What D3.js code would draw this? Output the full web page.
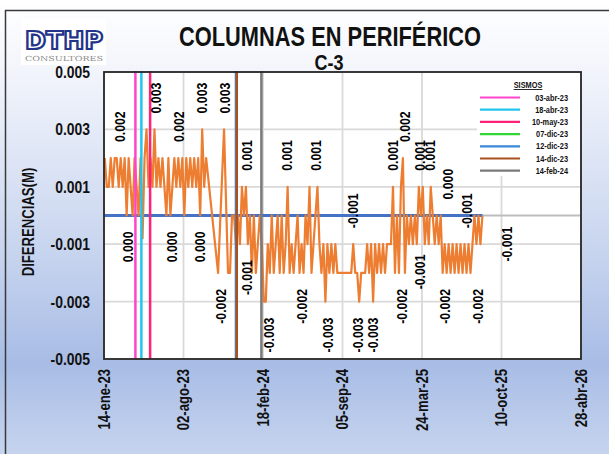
<!DOCTYPE html>
<html lang="es">
<head>
<meta charset="utf-8">
<title>Columnas en Periférico C-3</title>
<script src="https://cdn.jsdelivr.net/npm/d3@7"></script>
<style>
body { margin: 0; background: #fff; }
svg text { font-family: "Liberation Sans", Arial, sans-serif; font-weight: bold; }
</style>
</head>
<body>
<script>
// lecturas cada 5 dias desde el 16-ene-23 (null = sin lectura)
var inicioSerie = "2023-01-16";
var pasoDias = 5;
var diferencias = [
  .002,.001,.001,.002,.001,.002,.002,.001,.002,.001,.002,0,.002,.001,0,.002,
  .001,0,.002,-.0008,.002,.003,.001,.002,.001,.003,.001,.002,.001,.002,.001,0,
  .002,0,.001,.002,.001,.002,.001,.002,0,.002,.001,.002,.001,.002,.001,.002,
  0,.003,.001,.002,null,null,null,null,null,-.002,null,null,.003,null,-.002,-.002,
  0,0,-.001,0,-.001,.001,0,.001,-.001,0,-.002,0,-.002,-.001,0,-.001,
  -.003,-.003,-.001,-.002,0,-.002,-.001,0,-.002,0,-.002,-.001,.001,-.002,-.001,-.002,
  -.001,0,-.002,-.001,-.002,0,-.001,.001,-.002,-.001,0,.001,-.001,-.002,-.001,-.003,
  -.001,-.002,-.001,-.002,-.001,-.002,-.002,-.002,-.002,-.002,-.002,-.002,-.002,-.001,-.002,-.002,
  -.003,-.002,-.002,-.002,-.001,-.002,-.001,-.003,-.001,-.002,-.001,-.002,-.001,-.002,-.001,-.001,
  -.001,.001,-.002,0,-.002,.001,.002,-.002,0,-.001,0,-.001,0,-.001,.001,0,
  .001,-.001,0,-.001,.001,0,-.001,0,-.001,0,-.002,-.001,-.002,-.001,-.002,-.001,
  -.002,-.001,-.002,-.001,-.002,-.001,-.002,-.001,-.002,-.001,0,-.001,0,-.001,0
];

// etiquetas de datos
var etiquetaFechas = ["2023-02-23","2023-03-15","2023-05-25","2023-07-22","2023-07-04","2023-09-17","2023-09-12","2023-11-14","2023-11-04","2024-01-09",
  "2024-01-09","2024-03-04","2024-04-18","2024-05-26","2024-06-30","2024-07-31","2024-10-01","2024-10-14","2024-11-21","2025-01-10",
  "2025-02-09","2025-02-02","2025-03-19","2025-04-13","2025-03-19","2025-05-29","2025-05-21","2025-07-15","2025-08-12","2025-10-24"];
var etiquetaValores = [.002,0,.003,.002,0,.003,0,.003,-.002,.001,
  -.001,-.003,.001,-.002,.001,-.003,-.001,-.003,-.003,.001,
  .002,-.002,.001,.001,-.0008,0,-.002,-.001,-.002,-.001];
var etiquetaPos = ["a","b","a","a","b","a","b","a","b","a",
  "b","b","a","b","a","b","a","b","b","a",
  "a","b","a","a","b","a","b","a","b","c"];

// sismos (el del 07-dic-23 solo aparece en la leyenda)
var sismoFechas = ["2023-04-03","2023-04-18","2023-05-10","2023-12-07","2023-12-12","2023-12-14","2024-02-14"];
var sismoEnGrafica = [true, true, true, false, true, true, true];

// ejes
var xInicio = "2023-01-14", xFin = "2026-04-28";
var xTicks = ["2023-01-14","2023-08-02","2024-02-18","2024-09-05","2025-03-24","2025-10-10","2026-04-28"];
var yTicks = [-0.005,-0.003,-0.001,0.001,0.003,0.005];

var w = 609, h = 454;
var pLeft = 104, pRight = 581, pTop = 72, pBottom = 359;
var narrow = " scale(0.82,1)";   // imita la letra Arial Narrow

var parse = d3.timeParse("%Y-%m-%d");
var es = d3.timeFormatLocale({
  dateTime: "%x, %X", date: "%d/%m/%Y", time: "%H:%M:%S", periods: ["AM","PM"],
  days: ["domingo","lunes","martes","miércoles","jueves","viernes","sábado"],
  shortDays: ["dom","lun","mar","mié","jue","vie","sáb"],
  months: ["enero","febrero","marzo","abril","mayo","junio","julio","agosto","septiembre","octubre","noviembre","diciembre"],
  shortMonths: ["ene","feb","mar","abr","may","jun","jul","ago","sep","oct","nov","dic"]
});
var fmtFecha = es.format("%d-%b-%y");
var fmtNum = d3.formatLocale({decimal: ".", thousands: ",", grouping: [3], currency: ["$",""], minus: "-"}).format(".3f");

var xScale = d3.scaleTime().domain([parse(xInicio), parse(xFin)]).range([pLeft, pRight]);
var yScale = d3.scaleLinear().domain([-0.005, 0.005]).range([pBottom, pTop]);

var t0 = parse(inicioSerie);
var serie = diferencias.map(function(v, i) { return {fecha: d3.timeDay.offset(t0, i * pasoDias), v: v}; })
  .filter(function(d) { return d.v !== null; });

var colorSismo = d3.scaleOrdinal().domain(sismoFechas)
  .range(["#ff44cc","#22c6ec","#ff2277","#33d633","#3a88d6","#a9521f","#7a7a7a"]);

var svg = d3.select("body").append("svg").attr("width", w).attr("height", h);

var grad = svg.append("defs").append("linearGradient").attr("id", "bg")
  .attr("x1", 0).attr("y1", 0).attr("x2", 0).attr("y2", 1);
[[0, "#ffffff"], [0.14, "#f4f6fc"], [0.55, "#c8d5ef"], [0.8, "#a8bce5"], [1, "#c6d4ee"]].forEach(function(s) {
  grad.append("stop").attr("offset", s[0]).attr("stop-color", s[1]);
});

svg.append("rect").attr("width", w).attr("height", h).attr("fill", "url(#bg)");
svg.append("path").attr("d", "M5.5,454V10.5H609").attr("fill", "none").attr("stroke", "#3a3a3a").attr("stroke-width", 1.5);

// logo
svg.append("rect").attr("x", 21).attr("y", 19).attr("width", 85).attr("height", 46).attr("fill", "#fff");
svg.append("text").attr("x", 25).attr("y", 49).text("DTHP")
  .attr("textLength", 78).attr("lengthAdjust", "spacingAndGlyphs")
  .style("font-family", "'DejaVu Sans', sans-serif").style("font-size", "24px")
  .attr("fill", "#ffffff").attr("stroke", "#23348a").attr("stroke-width", 2.2);
svg.append("text").attr("x", 25).attr("y", 61).text("CONSULTORES")
  .attr("textLength", 78).attr("lengthAdjust", "spacingAndGlyphs")
  .style("font-family", "'DejaVu Serif', serif").style("font-weight", "normal").style("font-size", "7px")
  .attr("fill", "#8a8a8a");

// titulos
svg.append("text").attr("x", 330).attr("y", 46).attr("text-anchor", "middle")
  .style("font-size", "28px").attr("textLength", 302).attr("lengthAdjust", "spacingAndGlyphs")
  .attr("fill", "#111").text("COLUMNAS EN PERIFÉRICO");
svg.append("text").attr("transform", "translate(329,70)" + narrow).attr("text-anchor", "middle")
  .style("font-size", "22px").attr("fill", "#111").text("C-3");

// area de trazado
svg.append("rect").attr("x", pLeft).attr("y", pTop).attr("width", pRight - pLeft).attr("height", pBottom - pTop).attr("fill", "#fff");

svg.append("g").selectAll("line").data(xTicks).enter().append("line")
  .attr("x1", function(d) { return xScale(parse(d)); }).attr("x2", function(d) { return xScale(parse(d)); })
  .attr("y1", pTop).attr("y2", pBottom).attr("stroke", "#d9d9d9").attr("stroke-width", 1.8);
svg.append("g").selectAll("line").data(yTicks).enter().append("line")
  .attr("x1", pLeft).attr("x2", pRight)
  .attr("y1", function(d) { return yScale(d); }).attr("y2", function(d) { return yScale(d); })
  .attr("stroke", "#d9d9d9").attr("stroke-width", 1.8);
svg.append("line").attr("x1", pLeft).attr("x2", pRight).attr("y1", yScale(0)).attr("y2", yScale(0))
  .attr("stroke", "#bdbdbd").attr("stroke-width", 2);

var linea = d3.line().x(function(d) { return xScale(d.fecha); }).y(function(d) { return yScale(d.v); });

// linea base en cero
var extremos = d3.extent(serie, function(d) { return d.fecha; });
svg.append("path").datum(extremos.map(function(f) { return {fecha: f, v: 0}; }))
  .attr("d", linea).attr("fill", "none").attr("stroke", "#4472c4").attr("stroke-width", 3);

svg.append("path").datum(serie).attr("d", linea)
  .attr("fill", "none").attr("stroke", "#ed7d31").attr("stroke-width", 2.2).attr("stroke-linejoin", "round");

// sismos
svg.append("g").selectAll("line").data(sismoFechas.filter(function(d, i) { return sismoEnGrafica[i]; }))
  .enter().append("line")
  .attr("x1", function(d) { return xScale(parse(d)); }).attr("x2", function(d) { return xScale(parse(d)); })
  .attr("y1", pTop - 1).attr("y2", pBottom)
  .attr("stroke", function(d) { return colorSismo(d); }).attr("stroke-width", 2.5);

// etiquetas de datos
var etiquetas = etiquetaFechas.map(function(f, i) { return {fecha: parse(f), v: etiquetaValores[i], pos: etiquetaPos[i]}; });
svg.append("g").selectAll("text").data(etiquetas).enter().append("text")
  .attr("transform", function(d) {
    var yy = yScale(d.v) + (d.pos === "a" ? -16 : d.pos === "b" ? 16 : 0);
    return "translate(" + xScale(d.fecha) + "," + yy + ") rotate(-90)" + narrow;
  })
  .attr("dy", "0.35em")
  .attr("text-anchor", function(d) { return d.pos === "a" ? "start" : d.pos === "b" ? "end" : "middle"; })
  .style("font-size", "15px").attr("fill", "#000")
  .text(function(d) { return fmtNum(d.v); });

// leyenda
var leg = svg.append("g");
leg.append("rect").attr("x", 477).attr("y", 73).attr("width", 103).attr("height", 103).attr("fill", "#fff");
leg.append("text").attr("transform", "translate(528,88)" + narrow).attr("text-anchor", "middle")
  .style("font-size", "9px").style("text-decoration", "underline").attr("fill", "#111").text("SISMOS");
var filas = leg.selectAll("g.fila").data(sismoFechas).enter().append("g")
  .attr("transform", function(d, i) { return "translate(0," + (97.5 + i * 12.2) + ")"; });
filas.append("line").attr("x1", 480).attr("x2", 520)
  .attr("stroke", function(d) { return colorSismo(d); }).attr("stroke-width", 2.2);
filas.append("text").attr("transform", "translate(568,3)" + narrow).attr("text-anchor", "end")
  .style("font-size", "9px").attr("fill", "#111")
  .text(function(d) { return fmtFecha(parse(d)); });

svg.append("rect").attr("x", pLeft).attr("y", pTop).attr("width", pRight - pLeft).attr("height", pBottom - pTop)
  .attr("fill", "none").attr("stroke", "#262626").attr("stroke-width", 1.8);

// etiquetas de ejes
svg.append("g").selectAll("text").data(yTicks).enter().append("text")
  .attr("transform", function(d) { return "translate(90," + yScale(d) + ")" + narrow; })
  .attr("dy", "0.35em").attr("text-anchor", "end").style("font-size", "17px").attr("fill", "#111")
  .text(function(d) { return fmtNum(d); });

svg.append("g").selectAll("text").data(xTicks).enter().append("text")
  .attr("transform", function(d) { return "translate(" + xScale(parse(d)) + ",369) rotate(-90)" + narrow; })
  .attr("dy", "0.35em").attr("text-anchor", "end").style("font-size", "16px").attr("fill", "#111")
  .text(function(d) { return fmtFecha(parse(d)); });

svg.append("text").attr("transform", "translate(28,222) rotate(-90)" + narrow).attr("dy", "0.35em")
  .attr("text-anchor", "middle").style("font-size", "16px").attr("fill", "#111").text("DIFERENCIAS(M)");
</script>
</body>
</html>
